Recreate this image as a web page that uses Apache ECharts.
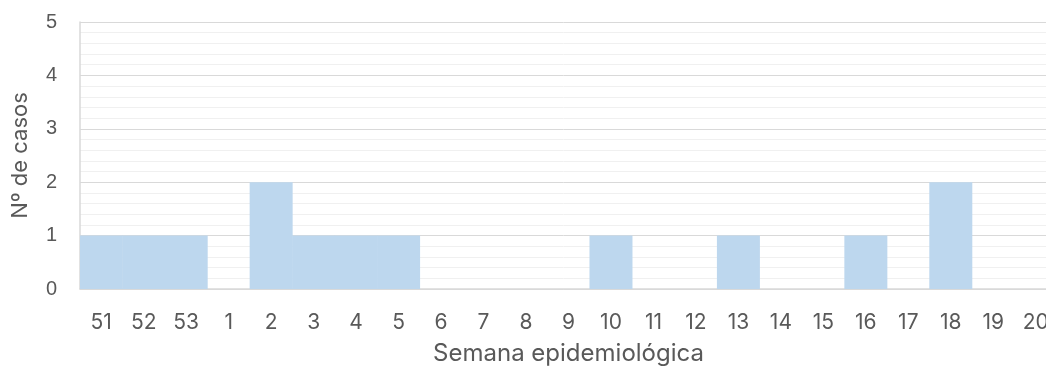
<!DOCTYPE html>
<html>
<head>
<meta charset="utf-8">
<script src="https://cdn.jsdelivr.net/npm/echarts@6/dist/echarts.min.js"></script>
<style>
  html, body { margin: 0; padding: 0; background: #ffffff; }
  #chart { width: 1046px; height: 371px; }
</style>
</head>
<body>
<div id="chart"></div>
<script>
const weeks = ["51", "52", "53", "1", "2", "3", "4", "5", "6", "7", "8", "9", "10",
  "11", "12", "13", "14", "15", "16", "17", "18", "19", "20"];
const cases = [1, 1, 1, 0, 2, 1, 1, 1, 0, 0, 0, 0, 1, 0, 0, 1, 0, 0, 1, 0, 2, 0, 0];

const chart = echarts.init(document.getElementById("chart"), null, { renderer: "canvas" });

chart.setOption({
  animation: false,
  backgroundColor: "#ffffff",
  grid: {
    left: 80,
    top: 22,
    width: 977,
    height: 267,
    outerBoundsMode: "none",
    containLabel: false
  },
  xAxis: {
    type: "category",
    data: weeks,
    name: "Semana epidemiológica",
    nameLocation: "middle",
    nameGap: 53,
    nameTextStyle: {
      color: "#595959",
      fontSize: 24,
      fontFamily: "Inter"
    },
    axisLine: { lineStyle: { color: "#d9d9d9", width: 1.5 } },
    axisTick: { show: false },
    axisLabel: {
      color: "#595959",
      fontSize: 21,
      fontFamily: "Inter",
      margin: 23,
      interval: 0
    }
  },
  yAxis: {
    type: "value",
    min: 0,
    max: 5,
    interval: 1,
    name: "Nº de casos",
    nameLocation: "middle",
    nameGap: 49,
    nameTextStyle: {
      color: "#595959",
      fontSize: 22,
      fontFamily: "Inter"
    },
    axisLine: { show: true, lineStyle: { color: "#d9d9d9", width: 1.5 } },
    axisTick: { show: false },
    axisLabel: {
      color: "#595959",
      fontSize: 20,
      fontFamily: "Liberation Sans",
      margin: 23
    },
    splitLine: { lineStyle: { color: "#d9d9d9", width: 1 } },
    minorTick: { show: false, splitNumber: 5 },
    minorSplitLine: { show: true, lineStyle: { color: "#f0f0f0", width: 1 } }
  },
  series: [
    {
      type: "bar",
      data: cases,
      barWidth: 43,
      itemStyle: { color: "#bdd7ee" }
    }
  ]
});
</script>
</body>
</html>
